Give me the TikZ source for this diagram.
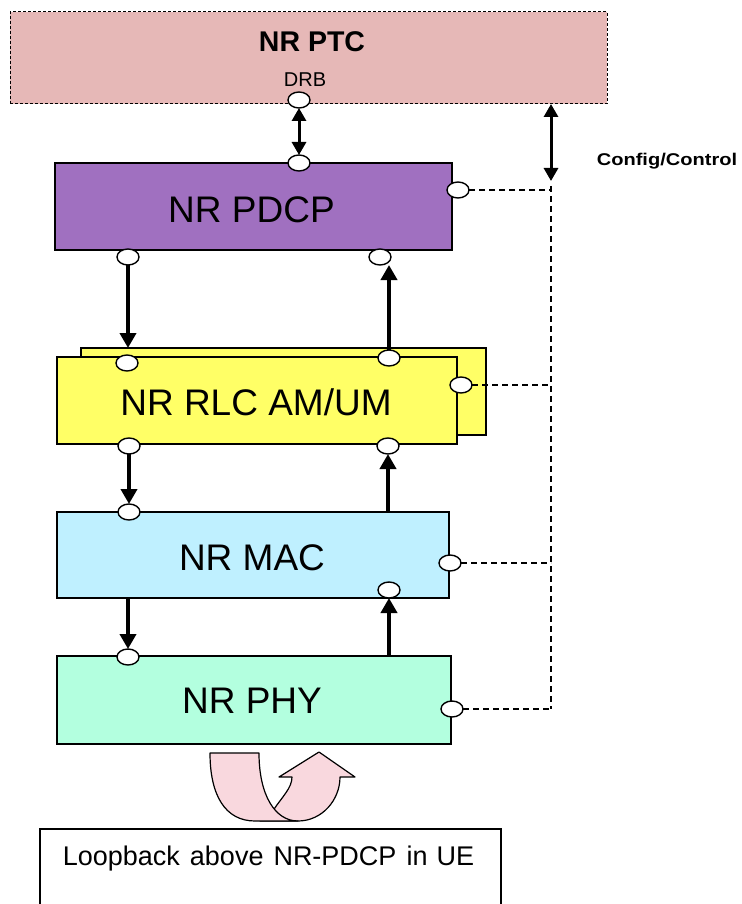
\documentclass[tikz,border=0pt]{standalone}
\usepackage{fontspec}
\setmainfont{Liberation Sans}
\usepackage{graphicx}
\usetikzlibrary{arrows.meta,shapes.geometric}

\definecolor{ptcfill}{HTML}{E6B8B7}
\definecolor{pdcpfill}{HTML}{A070C0}
\definecolor{rlcfill}{HTML}{FFFF66}
\definecolor{macfill}{HTML}{BFF0FF}
\definecolor{phyfill}{HTML}{B3FFDF}
\definecolor{loopfill}{HTML}{F9D8DE}

\begin{document}
\begin{tikzpicture}[x=1pt,y=-1pt,
  layer/.style={draw, line width=1.2pt, inner sep=0pt, outer sep=0pt},
  port/.style={draw, ellipse, fill=white, line width=1.4pt, minimum width=22pt, minimum height=16pt, inner sep=0pt, outer sep=0pt},
  bigtxt/.style={font=\fontsize{37}{40}\selectfont, anchor=base, inner sep=0pt},
  flow/.style={line width=4.8pt, -{Triangle[length=15pt,width=16pt]}},
  dbl/.style={line width=3pt, {Triangle[length=13pt,width=14pt]}-{Triangle[length=13pt,width=14pt]}},
  ctrl/.style={line width=1.3pt, dash pattern=on 6pt off 4pt},
  loopshape/.style={fill=loopfill, draw, line width=1.2pt, line join=round},
]
\fill[white] (0,0) rectangle (741,904);
\useasboundingbox (0,0) rectangle (741,904);
\clip (0,0) rectangle (741,904);

% layers
\node[layer, fill=ptcfill, line width=1pt, dash pattern=on 3pt off 2pt, minimum width=597pt, minimum height=92pt] (ptc) at (308.5,58) {};
\node[layer, fill=pdcpfill, minimum width=397pt, minimum height=87pt] (pdcp) at (253.5,206.5) {};
\node[layer, fill=rlcfill, minimum width=405pt, minimum height=87pt] (rlcback) at (283.5,391.5) {};
\node[layer, fill=rlcfill, minimum width=400pt, minimum height=87pt] (rlc) at (257,400.5) {};
\node[layer, fill=macfill, minimum width=392pt, minimum height=86pt] (mac) at (253,555) {};
\node[layer, fill=phyfill, minimum width=394pt, minimum height=88pt] (phy) at (254,700) {};
\node[layer, fill=white, minimum width=461pt, minimum height=100pt, anchor=north west] (loopbox) at (40,829) {};

% texts
\node[font=\fontsize{28.5}{30}\selectfont\bfseries, anchor=base, inner sep=0pt] (ptclabel) at (312,52) {NR PTC};
\node[font=\fontsize{20}{22}\selectfont, anchor=base, inner sep=0pt] (drb) at (305,87) {DRB};
\node[bigtxt] (pdcplabel) at (251.5,222) {NR PDCP};
\node[bigtxt] (rlclabel) at (256,415) {NR RLC AM/UM};
\node[bigtxt] (maclabel) at (252,570) {NR MAC};
\node[bigtxt] (phylabel) at (252,713) {NR PHY};
\node[font=\fontsize{17}{19}\selectfont\bfseries, anchor=base, inner sep=0pt] (cfglabel) at (667,166) {\scalebox{1.18}[1]{Config/Control}};
\node[font=\fontsize{27}{30}\selectfont, anchor=base, inner sep=0pt] (looplabel) at (268.5,865) {Loopback\hspace{10pt}above\hspace{10pt}NR-PDCP\hspace{10pt}in\hspace{9pt}UE};

% ports
\node[port] (ptcD) at (299,100) {};
\node[port] (pdcpT) at (299,163) {};
\node[port] (pdcpR) at (458,190) {};
\node[port] (pdcpBL) at (128,257) {};
\node[port] (pdcpBR) at (380,257) {};
\node[port] (rlcTL) at (127,363) {};
\node[port] (rlcTR) at (389,358) {};
\node[port] (rlcR) at (461,385) {};
\node[port] (rlcBL) at (129,446) {};
\node[port] (rlcBR) at (388,446) {};
\node[port] (macT) at (129,512) {};
\node[port] (macR) at (450,563) {};
\node[port] (macBR) at (389,590) {};
\node[port] (phyT) at (128,657) {};
\node[port] (phyR) at (452,709) {};

% control bus
\coordinate (cfgTop) at (551,104);
\coordinate (cfgBot) at (551,181);
\coordinate (busTop) at (551,186);
\coordinate (bus1) at (551,190);
\coordinate (bus2) at (551,385);
\coordinate (bus3) at (551,563);
\coordinate (bus4) at (551,709);

\draw[dbl] (ptcD.south) -- (pdcpT.north);
\draw[dbl] (cfgTop) -- (cfgBot);
\draw[ctrl] (busTop) -- (bus4);
\draw[ctrl] (pdcpR.east) -- (bus1);
\draw[ctrl] (rlcR.east) -- (bus2);
\draw[ctrl] (macR.east) -- (bus3);
\draw[ctrl] (phyR.east) -- (bus4);

% data flow
\draw[flow] (pdcpBL.south) -- (pdcpBL.south |- rlcback.north);
\draw[flow] (rlcTR.north) -- (rlcTR.north |- pdcpBR.south);
\draw[flow] (rlcBL.south) -- (rlcBL.south |- macT.north);
\draw[flow] (rlcBR.south |- mac.north) -- (rlcBR.south);
\draw[flow] (phyT.north |- mac.south) -- (phyT.north);
\draw[flow] (macBR.south |- phy.north) -- (macBR.south);

% loopback arrow
\draw[loopshape] (260,821) -- (260,805) -- (274,809.2) .. controls (282,797) and (292,788) .. (292,777)
  -- (279,777) -- (319,752) -- (355,777) -- (340,777)
  .. controls (340,800) and (322,821) .. (298,821) -- cycle;
\draw[loopshape] (210,753) -- (259,753) .. controls (259,795) and (275,821) .. (298,821)
  -- (255,821) .. controls (225,821) and (210,795) .. (210,753) -- cycle;
\end{tikzpicture}
\end{document}
